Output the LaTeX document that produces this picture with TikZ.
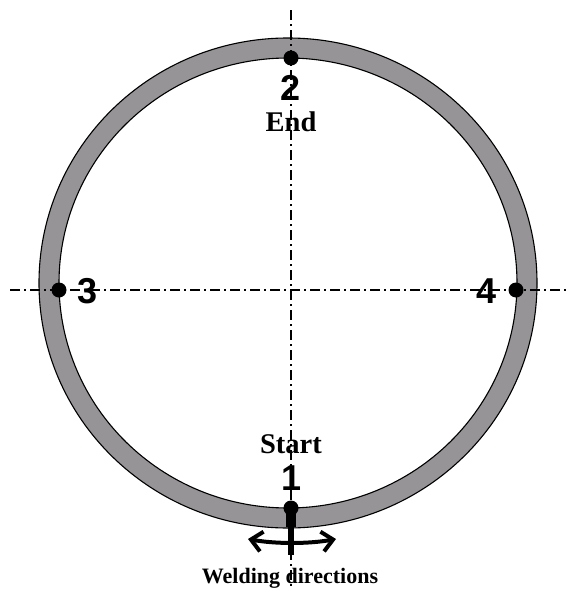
\documentclass[tikz,border=0pt]{standalone}
\usepackage{fontspec}
\setmainfont{Liberation Serif}
\newfontfamily\numfont{Liberation Sans}
\usetikzlibrary{arrows.meta}
\definecolor{ringgray}{RGB}{150,148,150}
\tikzset{
  axisline/.style={line width=1.1pt,black,dash pattern=on 10pt off 4pt on 2pt off 4pt},
  ringedge/.style={draw=black,line width=1.1pt},
  weldpoint/.style={circle,fill=black,inner sep=0pt,minimum size=15pt},
  numlabel/.style={font=\numfont\bfseries\fontsize{36}{36}\selectfont,inner sep=0pt},
  wordlabel/.style={font=\bfseries\fontsize{28.5}{28}\selectfont,inner sep=0pt},
  smalllabel/.style={font=\bfseries\fontsize{22}{22}\selectfont,inner sep=0pt},
  dirarrow/.style={line width=4pt,black,{Straight Barb[length=11pt,width=20pt,line width=4pt]}-{Straight Barb[length=11pt,width=20pt,line width=4pt]}}
}
\begin{document}
\begin{tikzpicture}[x=1pt,y=-1pt]
\useasboundingbox (0,0) rectangle (570,589);
\fill[white] (0,0) rectangle (570,589);
% ring
\fill[ringgray,even odd rule] (288,283) ellipse [x radius=249,y radius=245] (288,283) ellipse [x radius=229,y radius=225];
\draw[ringedge] (288,283) ellipse [x radius=249,y radius=245];
\draw[ringedge] (288,283) ellipse [x radius=229,y radius=225];
% axes
\coordinate (vtop) at (291,10);
\coordinate (vbot) at (291,589);
\coordinate (hleft) at (10,290);
\coordinate (hright) at (570,290);
\draw[axisline] (vtop) -- (vbot);
\draw[axisline] (hleft) -- (hright);
% points
\node[weldpoint] (p1) at (291,508) {};
\node[weldpoint] (p2) at (291,58) {};
\node[weldpoint] (p3) at (59,290) {};
\node[weldpoint] (p4) at (516,290) {};
% torch
\coordinate (tmid) at (291,527);
\coordinate (tend) at (291,555);
\draw[black,line width=10pt] (p1.center) -- (tmid);
\draw[black,line width=6pt] (tmid) -- (tend);
% directions
\coordinate (dl) at (248,539);
\coordinate (dr) at (336,539);
\draw[dirarrow] (dl) .. controls (275,544) and (309,544) .. (dr);
% labels
\node[numlabel] (n1) at (292,478) {1};
\node[numlabel] (n2) at (291,88) {2};
\node[numlabel] (n3) at (88,291) {3};
\node[numlabel] (n4) at (487,291) {4};
\node[wordlabel] (start) at (291,444) {Start};
\node[wordlabel] (endw) at (291,122) {End};
\node[smalllabel] (weld) at (290,578) {Welding directions};
\end{tikzpicture}
\end{document}
